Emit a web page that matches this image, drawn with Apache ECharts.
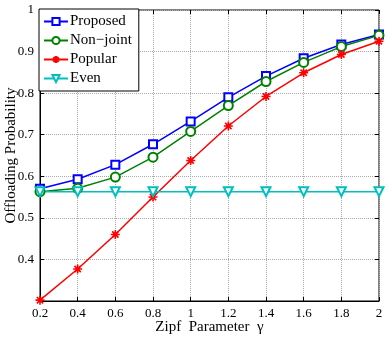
<!DOCTYPE html>
<html>
<head>
<meta charset="utf-8">
<script src="https://cdn.jsdelivr.net/npm/echarts@6/dist/echarts.min.js"></script>
<style>
html,body{margin:0;padding:0;background:#fff;}
#main{width:388px;height:338px;}
</style>
</head>
<body>
<div id="main"></div>
<script>
// 数据
var gammaList = [0.2, 0.4, 0.6, 0.8, 1.0, 1.2, 1.4, 1.6, 1.8, 2.0];
var proposed = [0.570, 0.593, 0.628, 0.677, 0.732, 0.790, 0.841, 0.884, 0.917, 0.941];
var nonJoint = [0.563, 0.571, 0.598, 0.646, 0.708, 0.770, 0.828, 0.874, 0.912, 0.939];
var popular  = [0.302, 0.377, 0.460, 0.550, 0.638, 0.721, 0.792, 0.849, 0.893, 0.925];
var even     = [0.563, 0.563, 0.563, 0.563, 0.563, 0.563, 0.563, 0.563, 0.563, 0.563];

function pairs(ys) {
    return gammaList.map(function (x, i) { return [x, ys[i]]; });
}

var font = 'Liberation Serif';
var asterisk = 'path://M0,5 L10,5 M5,0 L5,10 M1.5,1.5 L8.5,8.5 M8.5,1.5 L1.5,8.5';

function fmt(v) {
    var s = parseFloat(v.toFixed(1));
    return String(s);
}

var myChart = echarts.init(document.getElementById('main'));
var option = {
    animation: false,
    textStyle: {fontFamily: font},
    grid: {
        left: 40, right: 9, top: 10, bottom: 37,
        outerBoundsMode: 'none',
        containLabel: false,
        show: true,
        borderColor: '#000',
        borderWidth: 1
    },
    legend: {
        orient: 'vertical',
        left: 39, top: 9,
        padding: [5, 7, 5, 4],
        itemGap: 4,
        itemWidth: 24,
        itemHeight: 9,
        backgroundColor: '#fff',
        borderColor: '#000',
        borderWidth: 1,
        textStyle: {fontFamily: font, fontSize: 15, color: '#000', padding: [0, 0, 0, -3]},
        data: ['Proposed', 'Non\u2212joint', 'Popular', 'Even']
    },
    xAxis: [{
        type: 'value',
        min: 0.2, max: 2, interval: 0.2,
        name: 'Zipf  Parameter  \u03b3',
        nameLocation: 'middle',
        nameGap: 19,
        nameMoveOverlap: false,
        nameTextStyle: {fontFamily: font, fontSize: 15, color: '#000'},
        axisLine: {lineStyle: {color: '#000'}},
        axisTick: {inside: true, length: 4, lineStyle: {color: '#000'}},
        axisLabel: {fontFamily: font, fontSize: 13, color: '#000', margin: 6, formatter: fmt},
        splitLine: {show: true, lineStyle: {type: 'dotted', color: '#aaa'}}
    }, {
        type: 'value',
        position: 'top',
        min: 0.2, max: 2, interval: 0.2,
        axisLine: {show: false},
        axisTick: {inside: true, length: 4, lineStyle: {color: '#000'}},
        axisLabel: {show: false},
        splitLine: {show: false}
    }],
    yAxis: [{
        type: 'value',
        min: 0.3, max: 1, interval: 0.1,
        name: 'Offloading Probability',
        nameLocation: 'middle',
        nameGap: 21,
        nameMoveOverlap: false,
        nameTextStyle: {fontFamily: font, fontSize: 15, color: '#000'},
        axisLine: {show: true, lineStyle: {color: '#000'}},
        axisTick: {show: true, inside: true, length: 4, lineStyle: {color: '#000'}},
        axisLabel: {
            fontFamily: font, fontSize: 13, color: '#000', margin: 6,
            formatter: function (v) { return Math.abs(v - 0.3) < 1e-6 ? '' : fmt(v); }
        },
        splitLine: {show: true, lineStyle: {type: 'dotted', color: '#aaa'}}
    }, {
        type: 'value',
        position: 'right',
        min: 0.3, max: 1, interval: 0.1,
        axisLine: {show: false},
        axisTick: {show: true, inside: true, length: 4, lineStyle: {color: '#000'}},
        axisLabel: {show: false},
        splitLine: {show: false}
    }],
    series: [
        {
            name: 'Proposed', type: 'line', data: pairs(proposed),
            symbol: 'emptyRect', symbolSize: 8,
            lineStyle: {color: '#0000ff', width: 1.5},
            itemStyle: {color: '#0000ff', borderWidth: 1.3}
        },
        {
            name: 'Non\u2212joint', type: 'line', data: pairs(nonJoint),
            symbol: 'emptyCircle', symbolSize: 9,
            lineStyle: {color: '#008000', width: 1.5},
            itemStyle: {color: '#008000', borderWidth: 1.3}
        },
        {
            name: 'Popular', type: 'line', data: pairs(popular),
            symbol: asterisk, symbolSize: 9,
            lineStyle: {color: '#ff0000', width: 1.5},
            itemStyle: {color: 'none', borderColor: '#ff0000', borderWidth: 1.6}
        },
        {
            name: 'Even', type: 'line', data: pairs(even),
            symbol: 'emptyTriangle', symbolSize: 9, symbolRotate: 180,
            lineStyle: {color: '#00bfbf', width: 1.5},
            itemStyle: {color: '#00bfbf', borderWidth: 1.3}
        }
    ]
};
myChart.setOption(option);
</script>
</body>
</html>
